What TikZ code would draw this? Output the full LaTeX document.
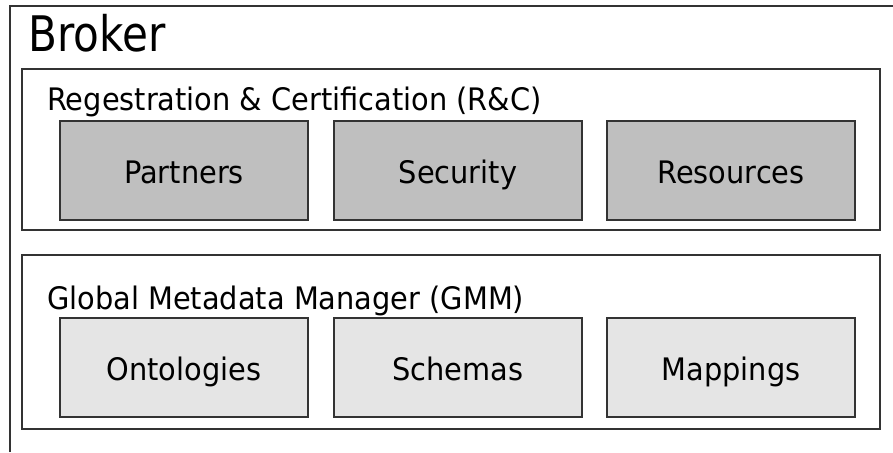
\documentclass[tikz,border=0pt]{standalone}
\usepackage{fontspec}
\setmainfont{DejaVu Sans}[FakeStretch=0.93]
\newfontfamily\brokerfont{DejaVu Sans}[FakeStretch=0.86]
\usetikzlibrary{positioning}

\tikzset{
  frame/.style={draw=black!80,line width=1.2pt},
  part/.style={draw=black!80,line width=1.2pt,minimum width=248pt,minimum height=99pt,
    inner sep=0pt,text height=25.6pt,text depth=0pt,font=\fontsize{31}{31}\selectfont},
  rcpart/.style={part,fill=black!25},
  gmmpart/.style={part,fill=black!10},
  title/.style={anchor=base west,inner sep=0pt,font=\fontsize{31}{31}\selectfont},
}

\begin{document}
\begin{tikzpicture}[x=1pt,y=-1pt]
  \useasboundingbox (0,0) rectangle (893,452);
  % the broker, cut off right and below
  \draw[frame] (10,452) |- (893,6);
  \node[title,font=\brokerfont\fontsize{49}{49}\selectfont] (broker) at (28,52) {Broker};
  % R&C
  \draw[frame] (22,69) rectangle (880,230);
  \node[title] (rc) at (47,110) {Regestration \& Certification (R\&C)};
  \node[rcpart] (partners) at (184,170.5) {Partners};
  \node[rcpart] (security) at (458,170.5) {Security};
  \node[rcpart] (resources) at (731,170.5) {Resources};
  % GMM
  \draw[frame] (22,255) rectangle (880,429);
  \node[title] (gmm) at (47,309) {Global Metadata Manager (GMM)};
  \node[gmmpart] (ontologies) at (184,367.5) {Ontologies};
  \node[gmmpart] (schemas) at (458,367.5) {Schemas};
  \node[gmmpart] (mappings) at (731,367.5) {Mappings};
\end{tikzpicture}
\end{document}
